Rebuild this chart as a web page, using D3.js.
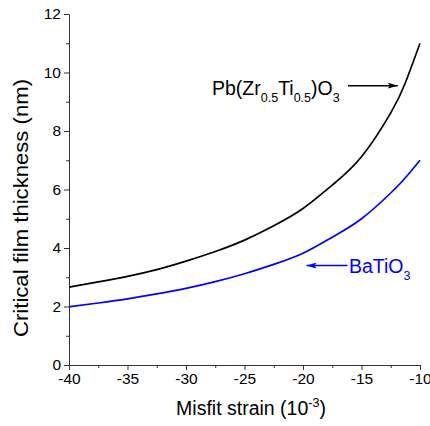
<!DOCTYPE html>
<html>
<head>
<meta charset="utf-8">
<script src="https://cdn.jsdelivr.net/npm/d3@7"></script>
<style>
body { margin: 0; background: #fff; }
text { font-family: "Liberation Sans", Arial, sans-serif; }
</style>
</head>
<body>
<div id="vis"></div>
<script>
const FRAME_WIDTH = 430;
const FRAME_HEIGHT = 426;
const MARGINS = {left: 69, right: 10, top: 14, bottom: 61};

// data
const strain = [-40, -37.5, -35, -32.5, -30, -27.5, -25, -22.5, -20, -17.5, -15, -12.5, -11.25, -10];
const pzt = [2.66, 2.84, 3.03, 3.26, 3.55, 3.88, 4.27, 4.76, 5.35, 6.15, 7.12, 8.62, 9.65, 11.0];
const bto = [1.99, 2.12, 2.26, 2.43, 2.62, 2.85, 3.12, 3.44, 3.82, 4.37, 5.0, 5.88, 6.4, 7.0];
const xTicks = [-40, -35, -30, -25, -20, -15, -10];
const yTicks = [0, 2, 4, 6, 8, 10, 12];

const VIS_WIDTH = FRAME_WIDTH - MARGINS.left - MARGINS.right;
const VIS_HEIGHT = FRAME_HEIGHT - MARGINS.top - MARGINS.bottom;

const svg = d3.select("#vis")
  .append("svg")
    .attr("width", FRAME_WIDTH)
    .attr("height", FRAME_HEIGHT);

const X_SCALE = d3.scaleLinear().domain([-40, -10]).range([MARGINS.left, MARGINS.left + VIS_WIDTH]);
const Y_SCALE = d3.scaleLinear().domain([0, 12]).range([MARGINS.top + VIS_HEIGHT, MARGINS.top]);

// minor ticks first
svg.append("g")
  .attr("transform", "translate(0," + (MARGINS.top + VIS_HEIGHT) + ")")
  .call(d3.axisBottom(X_SCALE).tickValues(d3.range(-37.5, -10, 5)).tickSize(3).tickFormat(""))
  .call(g => g.select(".domain").remove());
svg.append("g")
  .attr("transform", "translate(" + MARGINS.left + ",0)")
  .call(d3.axisLeft(Y_SCALE).tickValues(d3.range(1, 12, 2)).tickSize(3).tickFormat(""))
  .call(g => g.select(".domain").remove());

const xAxis = svg.append("g")
  .attr("transform", "translate(0," + (MARGINS.top + VIS_HEIGHT) + ")")
  .call(d3.axisBottom(X_SCALE).tickValues(xTicks).tickSize(5).tickSizeOuter(0).tickPadding(3)
    .tickFormat(d => String(d)));
xAxis.selectAll("text").attr("font-size", 15.5).attr("fill", "#000").style("font-family", "Liberation Sans, Arial, sans-serif");

const yAxis = svg.append("g")
  .attr("transform", "translate(" + MARGINS.left + ",0)")
  .call(d3.axisLeft(Y_SCALE).tickValues(yTicks).tickSize(5).tickSizeOuter(0).tickPadding(3));
yAxis.selectAll("text").attr("font-size", 15.5).attr("fill", "#000").style("font-family", "Liberation Sans, Arial, sans-serif");

svg.selectAll(".domain, .tick line").attr("stroke", "#333");

const line = d3.line()
  .x((d, i) => X_SCALE(strain[i]))
  .y(d => Y_SCALE(d))
  .curve(d3.curveNatural);

svg.append("path").datum(pzt)
  .attr("d", line).attr("fill", "none").attr("stroke", "#000").attr("stroke-width", 1.7);
svg.append("path").datum(bto)
  .attr("d", line).attr("fill", "none").attr("stroke", "#0000ff").attr("stroke-width", 1.7);

// arrow heads
const defs = svg.append("defs");
[["arrK", "#000"], ["arrB", "#0000ff"]].forEach(a => {
  defs.append("marker")
    .attr("id", a[0]).attr("viewBox", "0 0 10 6")
    .attr("refX", 10).attr("refY", 3)
    .attr("markerWidth", 10).attr("markerHeight", 6)
    .attr("markerUnits", "userSpaceOnUse")
    .attr("orient", "auto")
    .append("path").attr("d", "M0,0 L10,3 L0,6 L2,3 Z").attr("fill", a[1]);
});

// Pb(Zr0.5Ti0.5)O3 label
const pztLabel = svg.append("text").attr("x", 212).attr("y", 95).attr("font-size", 19.5).attr("fill", "#000");
pztLabel.append("tspan").text("Pb(Zr");
pztLabel.append("tspan").attr("dy", 7).attr("font-size", 12.5).text("0.5");
pztLabel.append("tspan").attr("dy", -7).text("Ti");
pztLabel.append("tspan").attr("dy", 7).attr("font-size", 12.5).text("0.5");
pztLabel.append("tspan").attr("dy", -7).text(")O");
pztLabel.append("tspan").attr("dy", 7).attr("font-size", 12.5).text("3");

svg.append("line")
  .attr("x1", X_SCALE(-16.15)).attr("y1", Y_SCALE(9.55))
  .attr("x2", X_SCALE(-11.9)).attr("y2", Y_SCALE(9.55))
  .attr("stroke", "#000").attr("stroke-width", 1.5).attr("marker-end", "url(#arrK)");

// BaTiO3 label
const btoLabel = svg.append("text").attr("x", 349).attr("y", 273).attr("font-size", 19.5).attr("fill", "#0000ff");
btoLabel.append("tspan").text("BaTiO");
btoLabel.append("tspan").attr("dy", 7).attr("font-size", 12.5).text("3");

svg.append("line")
  .attr("x1", X_SCALE(-16.2)).attr("y1", Y_SCALE(3.4))
  .attr("x2", X_SCALE(-19.7)).attr("y2", Y_SCALE(3.4))
  .attr("stroke", "#0000ff").attr("stroke-width", 1.5).attr("marker-end", "url(#arrB)");

// axis titles
const xTitle = svg.append("text")
  .attr("x", 251).attr("y", 415).attr("text-anchor", "middle").attr("font-size", 19.5).attr("fill", "#000");
xTitle.append("tspan").text("Misfit strain (10");
xTitle.append("tspan").attr("dy", -8).attr("font-size", 12.5).text("-3");
xTitle.append("tspan").attr("dy", 8).text(")");

svg.append("text")
  .attr("transform", "translate(28,208) rotate(-90)")
  .attr("text-anchor", "middle").attr("font-size", 19.5).attr("fill", "#000")
  .attr("textLength", 258).attr("lengthAdjust", "spacingAndGlyphs")
  .text("Critical film thickness (nm)");
</script>
</body>
</html>
